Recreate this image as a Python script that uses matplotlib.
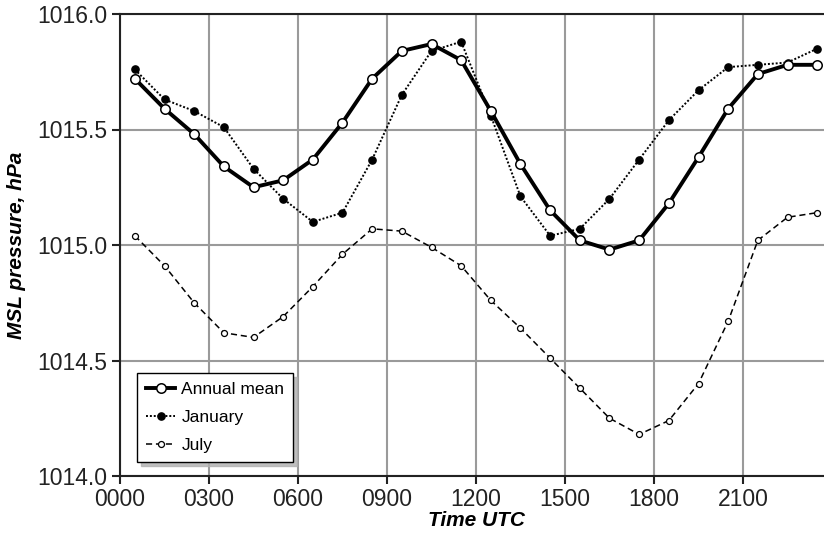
import matplotlib.pyplot as plt
from matplotlib.ticker import FuncFormatter, MultipleLocator

plt.rcParams['font.family'] = ['Liberation Sans', 'DejaVu Sans']

# half-hourly means, hours UTC
hours = [h + 0.5 for h in range(24)]

annual_mean = [1015.72, 1015.59, 1015.48, 1015.34, 1015.25, 1015.28, 1015.37, 1015.53,
               1015.72, 1015.84, 1015.87, 1015.80, 1015.58, 1015.35, 1015.15, 1015.02,
               1014.98, 1015.02, 1015.18, 1015.38, 1015.59, 1015.74, 1015.78, 1015.78]
january = [1015.76, 1015.63, 1015.58, 1015.51, 1015.33, 1015.20, 1015.10, 1015.14,
           1015.37, 1015.65, 1015.84, 1015.88, 1015.56, 1015.21, 1015.04, 1015.07,
           1015.20, 1015.37, 1015.54, 1015.67, 1015.77, 1015.78, 1015.79, 1015.85]
july = [1015.04, 1014.91, 1014.75, 1014.62, 1014.60, 1014.69, 1014.82, 1014.96,
        1015.07, 1015.06, 1014.99, 1014.91, 1014.76, 1014.64, 1014.51, 1014.38,
        1014.25, 1014.18, 1014.24, 1014.40, 1014.67, 1015.02, 1015.12, 1015.14]

fig = plt.figure(figsize=(8.24, 5.38), dpi=100)
# axes runs past the right edge, like the cropped original
ax = fig.add_axes([120 / 824, 62 / 538, 712 / 824, 462 / 538])

ax.plot(hours, annual_mean, color='black', lw=2.8, marker='o', ms=6.8,
        mfc='white', mec='black', mew=1.1, label='Annual mean', zorder=4)
ax.plot(hours, january, color='black', lw=1.4, ls=(0, (1, 1)), marker='o', ms=5.2,
        mfc='black', mec='black', label='January', zorder=3)
ax.plot(hours, july, color='black', lw=1.1, ls=(0, (4, 2.5)), marker='o', ms=4.3,
        mfc='white', mec='black', mew=0.9, label='July', zorder=3)

ax.set_xlim(0, 24)
ax.set_ylim(1014.0, 1016.0)
ax.xaxis.set_major_locator(MultipleLocator(3))
ax.xaxis.set_major_formatter(FuncFormatter(lambda v, p: f"{int(round(v)):02d}00" if v < 23 else ""))
ax.yaxis.set_major_locator(MultipleLocator(0.5))
ax.yaxis.set_major_formatter(FuncFormatter(lambda v, p: f"{v:.1f}"))

ax.grid(True, color='#9a9a9a', lw=1.5)
ax.set_axisbelow(True)
ax.spines['right'].set_visible(False)
for s in ['left', 'top', 'bottom']:
    ax.spines[s].set_linewidth(1.5)
    ax.spines[s].set_color('#222222')
ax.tick_params(axis='both', labelsize=16.5, length=6, width=1.5, color='#222222',
               direction='out', pad=3, labelcolor='#222222')

ax.set_xlabel('Time UTC', fontsize=15, fontweight='bold', fontstyle='italic', labelpad=0)
ax.set_ylabel('MSL pressure, hPa', fontsize=15, fontweight='bold', fontstyle='italic', labelpad=8)

leg = ax.legend(loc='lower left', bbox_to_anchor=(0.024, 0.030), borderaxespad=0,
                fontsize=12.5, fancybox=False,
                shadow={'color': '#b0b0b0', 'ox': 3, 'oy': -3, 'alpha': 0.8},
                framealpha=1, edgecolor='black', handlelength=1.7, handletextpad=0.35,
                labelspacing=0.75, borderpad=0.5)
leg.get_frame().set_linewidth(1.0)

fig.savefig('out.png', dpi=100)
